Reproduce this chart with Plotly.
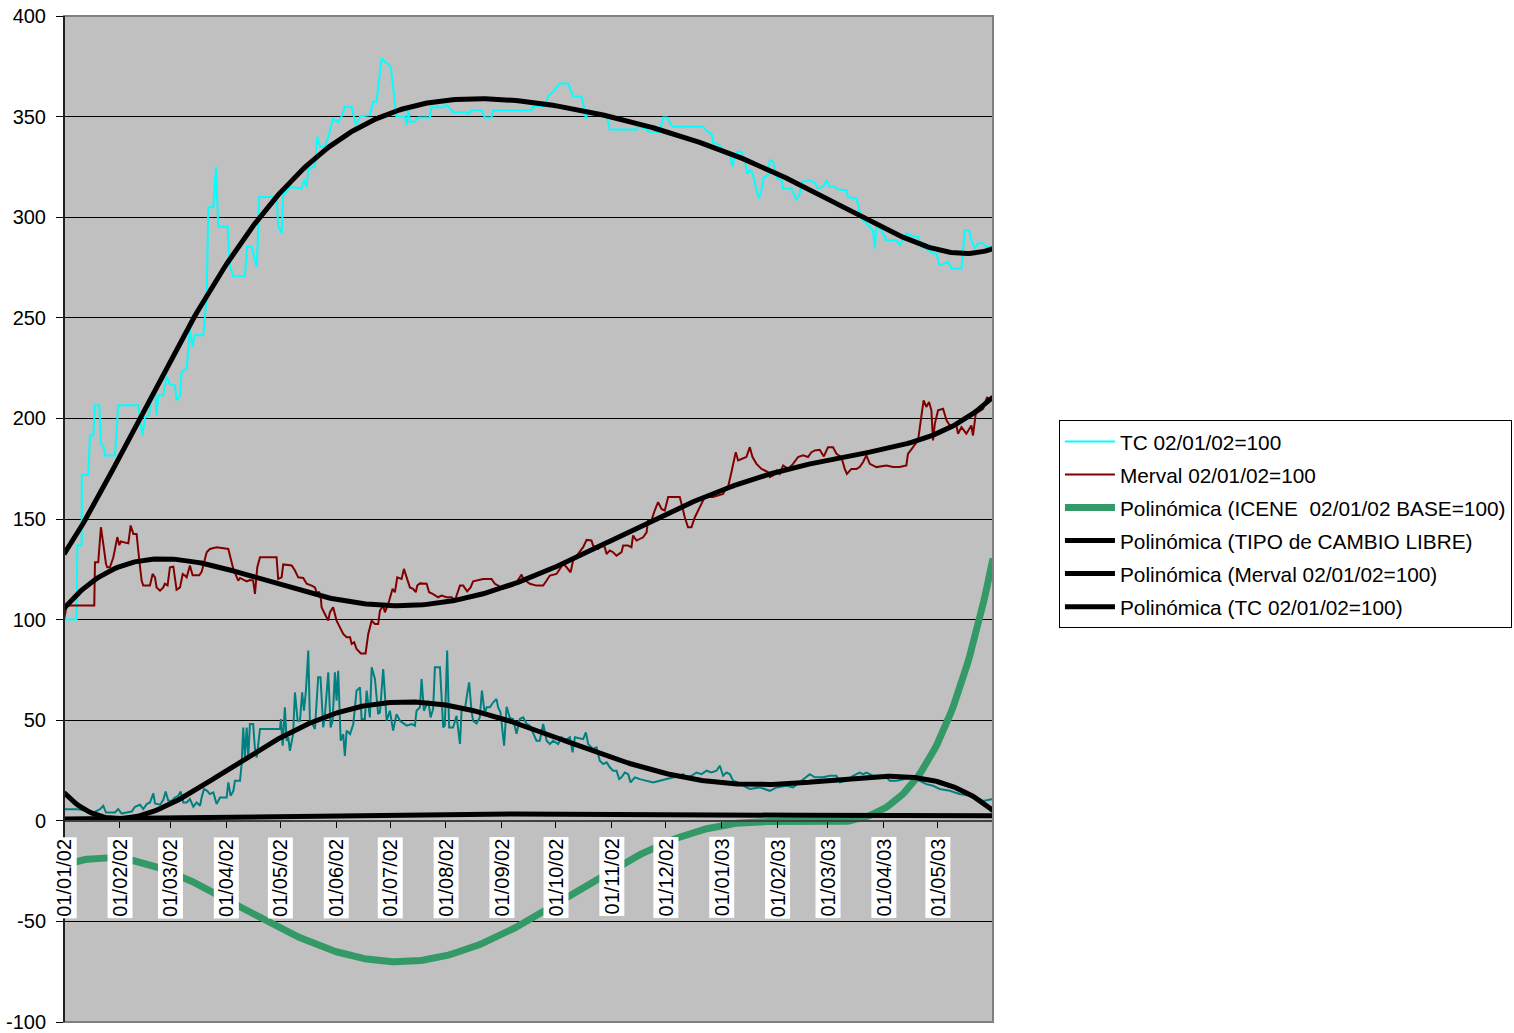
import numpy as np
import pandas as pd
import plotly.graph_objects as go

ORIGEN = pd.Timestamp("2002-01-01")
FUENTE = "Arial, Liberation Sans, sans-serif"

# ---- TC 02/01/02=100 (días desde 01/01/02, valor) ----
tc_dias = [0, 7, 7.4, 9.8, 9.9, 13.5, 14.4, 16.3, 17.2, 19.6, 20.5, 21.8, 22.8, 28.3, 30.1, 41.2, 43.5, 45, 47.2,
           48.7, 50.5, 51.4, 52.3, 55.1, 57, 58.8, 61.6, 62.5, 64.4, 65.3, 68.1, 69.9, 71.4, 72.3, 77.3, 78.2, 79.2,
           80.1, 82.9, 84.4, 85.6, 90.8, 92.1, 94, 100.4, 101.7, 104.2, 106, 107, 108.4, 118, 118.9, 120.8, 121.7,
           125.4, 131.9, 133.2, 134.7, 135.6, 139.3, 140.6, 142.1, 144.8, 146.7, 149.4, 152.2, 154.1, 155.9, 159.7,
           162, 164.3, 169.8, 171.6, 173.5, 176.3, 177.2, 179.1, 181.3, 182.7, 184.1, 184.5, 189.2, 190.2, 191.1,
           192, 194.8, 196.6, 203.1, 204, 210.5, 212.4, 215.2, 216, 223.5, 224.4, 226.2, 231.8, 233.6, 237.3, 238.3,
           259.5, 260.4, 266.9, 268.8, 271.5, 275.2, 279.9, 282.6, 287.3, 288.6, 289.7, 291, 301.2, 303, 317.8,
           318.7, 322.4, 325.2, 330.7, 332.6, 334.8, 337.2, 338.1, 354.8, 356.7, 359.4, 360.3, 363.1, 365.9, 369.6,
           371.1, 371.8, 373.6, 376.1, 377.9, 379.2, 380.7, 382.2, 384.4, 385.7, 387.2, 388.5, 390.9, 391.8, 393.6,
           395.8, 398.3, 399.2, 403.8, 406.6, 408.4, 409.9, 414, 416.8, 418.6, 421.4, 423.3, 425.1, 427.9, 429.7,
           434.4, 435.2, 439.9, 441.3, 442.7, 447.3, 449.1, 450.1, 451, 453.8, 456.5, 462.1, 463.9, 467.6, 472.3,
           474.1, 476, 478.7, 482.4, 484.3, 486.1, 490.7, 492.6, 498.2, 500, 502.4, 503.7, 505.5, 507.4, 510.2,
           512.1, 515.7]
tc_vals = [100, 100, 137, 137, 172, 172, 191.5, 191.5, 206.5, 206.5, 187.4, 186.6, 181.6, 181.6, 206.5, 206.5,
           191.5, 200.6, 201.5, 210.6, 214, 201.5, 211.4, 211.4, 220.9, 216.9, 216.4, 209, 211.4, 223, 224.6, 243.8,
           235.5, 241.3, 241.3, 252, 260.3, 305, 305, 325, 295.2, 295.2, 276, 270.6, 270.6, 285.6, 285.3, 278.6,
           275.3, 310, 310, 296, 292, 311, 315, 314.3, 318.4, 315, 324.2, 325, 340, 335, 335, 340, 349, 347.2,
           350.2, 354.9, 354.9, 345.8, 350, 350.7, 357.4, 357.4, 379, 378, 376.4, 375, 364.8, 351.6, 350, 350,
           345.8, 355, 347.4, 347.4, 349.6, 349.6, 354.6, 354.6, 355.7, 353.2, 352.2, 352.2, 351.2, 353.2, 353.2,
           349.6, 349.6, 353.2, 353.2, 355.2, 355.2, 360.2, 362.3, 366.5, 366.5, 360.2, 359.8, 354.9, 348.9, 353.2,
           350.7, 343.6, 343.6, 345.3, 344.1, 342.4, 342.4, 349.6, 349.6, 345.8, 345, 345, 342.9, 341.5, 337,
           336.3, 333.3, 331.7, 325, 328.4, 332.5, 332.5, 328.4, 321.7, 323.4, 321.7, 313.4, 309.3, 313.4, 320,
           320.9, 328.4, 327.5, 319.2, 318.4, 314.3, 314.3, 308.5, 311.8, 317.6, 318.4, 317, 314.3, 315.1, 318.4,
           315.1, 315.1, 313.8, 313.4, 310, 309.3, 303.5, 299.3, 295.2, 293.5, 284.4, 296.5, 293.5, 288.6, 288.6,
           286.1, 291.9, 290.2, 290.2, 285.2, 284.4, 281.9, 281.9, 276, 277.8, 274.5, 274.5, 293.5, 293.5, 288.6,
           284.4, 286.9, 287.2, 284.9, 285.6]

# ---- Merval 02/01/02=100 ----
merval_dias = [0, 1.5, 16.8, 17.2, 19, 20.5, 21.8, 23.3, 24, 25.5, 27.4, 28.3, 29.6, 30.7, 31.5, 35.7, 37, 38.5,
               40.3, 41.8, 43.1, 44, 47.7, 49.2, 50.5, 51.4, 53.3, 55.1, 56, 57.5, 58.8, 60.7, 61.6, 62.5, 64.4,
               65.9, 67.1, 68.1, 69.9, 71.4, 75.1, 76.4, 79.2, 81, 84.7, 91.2, 94, 96.7, 97.7, 100.4, 101.4, 103.2,
               105, 106, 107.3, 108.8, 118, 118.9, 120.8, 121.7, 126.4, 128.2, 130, 132.8, 134.7, 137.5, 139.3,
               140.2, 141.7, 142.6, 143, 144.8, 146.7, 147.6, 149.4, 151.3, 153.2, 155, 156.9, 158.8, 159.7, 161.1,
               162.4, 164.8, 167.4, 168.9, 170.8, 172.6, 174.4, 175.4, 177.2, 178.1, 180, 180.9, 182.4, 183.7, 185,
               187.4, 188.7, 190.2, 192, 193.8, 195.3, 196.1, 197.6, 201.3, 202.7, 204.9, 207.7, 209.6, 212.4, 215.2,
               217, 219.8, 221.6, 223.8, 225.7, 227.1, 232.7, 237.3, 239.2, 241, 242.9, 245.7, 249.3, 251.2, 254,
               254.9, 258.6, 262.3, 266, 267.9, 269.7, 273.4, 275.2, 277.1, 279, 281.2, 282.6, 283.6, 285.4, 287.3,
               288.2, 290.1, 292.8, 293.7, 296.5, 298.4, 300.2, 301.2, 303, 304.8, 306.7, 309.5, 310.4, 313.1, 315,
               315.9, 317.8, 321.5, 323.4, 324.2, 326.1, 327.9, 329.8, 331.7, 333.5, 335.4, 341.8, 342.8, 344.6,
               346.4, 348.3, 350.2, 352.9, 355.7, 360.3, 365.9, 366.8, 368.6, 370.5, 372.9, 374.2, 378.8, 380.7,
               382.2, 384.4, 387.2, 389, 390.9, 391.8, 393.6, 395.5, 397.3, 399.2, 402, 404.7, 407.5, 410.3, 413,
               414.9, 416.8, 419.5, 421.8, 424.1, 426.9, 428.8, 431.5, 433.4, 434.6, 437.1, 439.9, 441.7, 443.6,
               445.4, 447.3, 451, 456.5, 460.2, 463.9, 467.6, 468.5, 471.3, 474.1, 476, 477.2, 478.7, 480.2, 481.5,
               482.4, 483.4, 485.2, 488, 489.9, 491.7, 495.4, 496.3, 498.2, 500.9, 503.7, 504.6, 506.1, 507.4, 510.2,
               512.4, 513.9, 515.7]
merval_vals = [100, 107, 107, 128.5, 128.5, 145.9, 137.6, 127.7, 126, 126, 131, 136, 141, 137, 138.8, 137.9,
               146.8, 142.6, 142.6, 129.4, 119.4, 116.9, 116.9, 122.7, 121, 116, 114.4, 116, 117.8, 117, 126, 126.3,
               119.4, 114.8, 116, 122.7, 121.9, 121, 126.9, 122, 122, 123.7, 133.5, 135.1, 135.9, 135.1, 125.2,
               119.4, 120.7, 119.4, 119, 119.7, 119.4, 112.8, 126, 131, 131, 120.2, 121, 127.4, 126.9, 124.4, 121,
               120.7, 117.8, 116.9, 116, 113.6, 113.6, 110.3, 106.1, 102.8, 99.5, 103.6, 106.1, 99.5, 96.2, 92.9,
               91.2, 91.2, 87.9, 88.7, 85.4, 83.2, 83.2, 92.9, 99.5, 97.8, 97.8, 104.5, 107, 103.6, 107.8, 111.1,
               115.3, 113.6, 121, 120.2, 125.2, 121, 116, 115.3, 113.6, 116.9, 118, 117.8, 113.6, 112.7, 111.1,
               111.9, 111.1, 111.1, 109.5, 116.9, 116.9, 114, 116, 119, 120.2, 120.2, 117.8, 116.9, 115.3, 115.8,
               116.9, 118.6, 122.4, 120.2, 117.8, 116.9, 116.9, 119.4, 121.9, 122.7, 125.2, 127.7, 126, 123.5, 129.4,
               130.2, 132.7, 135.1, 136, 139.6, 139.3, 136.8, 135.1, 136.8, 136, 132.6, 134.3, 133.5, 131.8, 133.5,
               136.8, 136.8, 136, 141.8, 139.3, 140.9, 143.4, 149.3, 149.3, 154.2, 158.4, 155, 154.2, 160.9, 160.9,
               157.6, 150.9, 145.9, 145.9, 150.9, 155.9, 160.9, 160.9, 162.5, 164.2, 165.8, 173.2, 183.2, 179.1,
               180.8, 185.7, 180.8, 177.4, 174.9, 174.1, 173.2, 170.8, 171.6, 174.1, 172.4, 176.6, 174.9, 177.4,
               180.8, 181.6, 180.8, 183.2, 184.1, 184.4, 181.1, 185.7, 185.7, 182.4, 180.8, 174.9, 172.4, 174.9,
               174.9, 175.8, 178.3, 181.6, 177.4, 175.8, 176.6, 175.8, 175.8, 176.6, 182.4, 185.7, 189.1, 201.5,
               209, 205.7, 208.1, 204, 189.1, 197.3, 204, 204.8, 199, 196.5, 196.5, 192.4, 195.7, 192.4, 196.5,
               191.5, 202.3, 203.1, 204.8, 210.6, 209, 210.6]

# ---- Serie 3 (verde azulado) ----
serie3_dias = [0, 7, 12.6, 16.3, 20, 21.8, 23.3, 28.3, 30.1, 32, 34.8, 37.6, 38.5, 39.4, 42.2, 44, 45.9, 47.7,
               49.6, 50.5, 53.3, 55.1, 56.4, 57.9, 59.8, 61.6, 63.4, 64.8, 66.2, 68.1, 69.9, 71.8, 73.6, 75.5, 76.4,
               77.7, 79.5, 81, 82.9, 84.7, 86.6, 90.3, 91.2, 92.5, 94, 94.9, 97.7, 98.6, 99.5, 100.4, 101.4, 102.3,
               103.2, 105, 106, 107, 108.8, 119.9, 120.4, 121.4, 122.6, 123.6, 124.5, 125.4, 127.2, 128.2, 129.7,
               131, 132.2, 133.2, 134.3, 135.6, 136.5, 137.5, 139.3, 141.1, 142.4, 143.9, 144.8, 146.7, 148, 149.1,
               150.4, 151.3, 152.2, 153.2, 153.6, 155, 155.9, 156.9, 158.8, 160.6, 162.4, 164.3, 165.2, 167, 168,
               169.8, 170.8, 172.6, 174.4, 175.4, 177.2, 179.1, 180.9, 182.7, 184.6, 186.5, 190.2, 193, 194.8, 195.7,
               197.6, 198.5, 199.8, 202.2, 203.5, 204.9, 205.9, 208.7, 210.5, 211.4, 212.7, 213.8, 216, 217.9, 219.8,
               220.7, 222.6, 223.8, 224.9, 226.2, 227.1, 229, 230.8, 232, 233.6, 234.6, 236.4, 238.3, 240.1, 241,
               242.3, 244.3, 245.7, 247.5, 249.3, 251.2, 253, 254.9, 256.8, 258.6, 260.4, 262.3, 264.1, 266, 267.9,
               269.7, 271.5, 274.3, 276.2, 278, 280.8, 282.3, 283.6, 286.3, 288.2, 289.7, 291, 293.7, 295.6, 297.4,
               299.3, 301.2, 303, 304.8, 306.7, 308.2, 309.5, 311.3, 313.2, 314.5, 316.9, 319.6, 323.4, 327, 330.7,
               334.4, 338.1, 341.8, 343.7, 345.5, 348.3, 351.1, 353.9, 356.7, 359.4, 362.2, 364, 365, 365.9, 367.7,
               369.6, 371.4, 374.2, 378.8, 380.7, 386.2, 391.8, 395.5, 401, 404.7, 408.4, 412.1, 414, 416.8, 421.4,
               425.1, 428.8, 430.7, 434.4, 438, 441.7, 443.6, 445.4, 449.1, 452.8, 456.5, 458.4, 462.1, 465.8, 471.3,
               475, 478.7, 482.4, 486.1, 491.7, 497.2, 502.8, 506.5, 510.2, 513.9, 515.7]
serie3_vals = [5.8, 5.8, 5, 4.1, 5.8, 7.5, 4.1, 4.1, 5.8, 3.6, 4.1, 4.6, 5.8, 7, 8, 5.8, 8.3, 9.1, 13.6, 8.6, 8,
               10.3, 14.6, 10, 10, 11.6, 12.4, 14.6, 9.1, 9.1, 10.8, 7, 9.1, 7.5, 11.6, 15.8, 14.9, 13.3, 14.1, 8.3,
               11.6, 11.6, 19.1, 12.4, 14.9, 19.9, 19.9, 28.2, 46.4, 31.5, 46.4, 31.5, 48.1, 48.1, 35.7, 31.5, 45.6,
               45.6, 50.6, 37.3, 56.4, 39.8, 41.5, 34.8, 43.1, 63.8, 49.7, 49.7, 63.8, 54.7, 64.7, 84.6, 49.7, 48.9,
               45.6, 71.3, 71.3, 46.4, 52.2, 73.8, 46.4, 49.7, 73.8, 59.7, 74.6, 49.7, 39.8, 43.1, 32.3, 44.8, 43.1,
               48.1, 64.7, 66.3, 50.6, 50.6, 64.7, 51.4, 76.3, 70.5, 53, 53.9, 75.4, 49.7, 54.7, 44.8, 53, 49.7, 47.3,
               48.1, 47.3, 54.7, 56.4, 70.5, 54.7, 59.7, 51.4, 55.6, 76.3, 76.3, 46.4, 47.3, 84.6, 46.4, 46.4, 52.2,
               38.2, 54.7, 55.6, 63, 68.8, 54.7, 49.7, 48.4, 51.4, 64.7, 53, 56.4, 56.4, 58.9, 60.5, 56.4, 53.9, 37.3,
               56.7, 51.1, 50.6, 43.2, 50.6, 51.4, 48.1, 47.3, 44, 39.8, 39.8, 48.1, 39.8, 38.1, 39.8, 38.1, 41.5,
               39.8, 41.5, 34, 41.5, 41.1, 40.6, 43.9, 38.1, 35.7, 36.5, 29.9, 28.2, 29.1, 26.6, 24.9, 24.9, 20.7,
               21.6, 24, 23.2, 19.1, 21.6, 20.7, 19.9, 19.1, 19.9, 20.7, 21.6, 22.4, 23.2, 21.6, 22.4, 24, 23.2, 24.9,
               24, 24.9, 27.4, 24.9, 22.4, 24, 23.2, 19.9, 19.1, 16.6, 15.8, 16.6, 14.9, 16.6, 17.4, 16.6, 19.1, 21.6,
               23.2, 21.6, 21.6, 22.4, 22.4, 19.1, 19.9, 22.4, 24, 23.2, 24, 22.4, 22.4, 21.6, 19.9, 19.9, 20.7,
               21.6, 19.9, 18.2, 17.4, 15.8, 14.9, 13.3, 12.4, 11.6, 9.9, 10.3, 10.8]

# ---- Líneas de tendencia polinómicas (valores de la curva por fecha) ----
tend_dias = [0, 31, 59, 90, 120, 151, 181, 212, 243, 273, 304, 334, 365, 396, 424, 455, 485, 515.7]
tend_tc = [132, 182.6, 229, 273.6, 313, 339.8, 350.7, 357.4, 358.5, 356, 350, 341.8, 333, 322, 310, 293.5, 284, 284.5]
tend_merval = [105.5, 126.5, 130.3, 125.2, 117, 109.5, 106.5, 110.4, 116, 126, 137.7, 152.6, 165, 174, 179, 184,
               193, 210.6]
tend_serie3 = [14.1, 0.5, 9.1, 24.9, 41.5, 52.2, 58.9, 58, 52, 40.6, 31.5, 23.2, 18.6, 18.2, 20.7, 22.4, 18.6, 5.3]
tend_tipo_cambio = [0.9, 1.3, 1.7, 2.1, 2.5, 2.8, 3.1, 3.3, 3.4, 3.4, 3.3, 3.1, 2.9, 2.8, 2.7, 2.6, 2.5, 2.5]

icene_dias = [0, 23, 31, 59, 90, 120, 151, 181, 212, 243, 273, 304, 334, 365, 396, 424, 455, 473, 490, 508, 515.7]
icene_vals = [-22, -18.2, -18.6, -25.7, -39.8, -53, -63.8, -69.7, -67.2, -58, -42.3, -24, -10, -1.3, 0, -2.1,
              3.3, 21.5, 50, 103, 127]

# ---- Ejes ----
meses_dias = [0, 31, 59, 90, 120, 151, 181, 212, 243, 273, 304, 334, 365, 396, 424, 455, 485]
meses_etiquetas = ["01/01/02", "01/02/02", "01/03/02", "01/04/02", "01/05/02", "01/06/02", "01/07/02",
                   "01/08/02", "01/09/02", "01/10/02", "01/11/02", "01/12/02", "01/01/03", "01/02/03",
                   "01/03/03", "01/04/03", "01/05/03"]
y_ticks = [-100, -50, 0, 50, 100, 150, 200, 250, 300, 350, 400]
y_etiquetas = ["-100", "-50", "0", "50", "100", "150", "200", "250", "300", "350", "400"]

FIN_DIAS = 515.7


def a_fecha(dias):
    return ORIGEN + pd.to_timedelta(np.asarray(dias, dtype=float), unit="D")


def polinomica(dias, vals, grado=6, n=400):
    """Ajuste polinómico (como la línea de tendencia de Excel) evaluado en una malla fina."""
    t = np.asarray(dias, dtype=float) / FIN_DIAS
    coef = np.polyfit(t, np.asarray(vals, dtype=float), grado)
    tt = np.linspace(0, 1, n)
    return a_fecha(tt * FIN_DIAS), np.polyval(coef, tt)


fig = go.Figure()

# series diarias
fig.add_trace(go.Scatter(x=a_fecha(tc_dias), y=tc_vals, mode="lines", name="TC 02/01/02=100",
                         legendgroup="g1", line=dict(color="#00FFFF", width=2)))
fig.add_trace(go.Scatter(x=a_fecha(merval_dias), y=merval_vals, mode="lines", name="Merval 02/01/02=100",
                         legendgroup="g2", line=dict(color="#800000", width=2)))
fig.add_trace(go.Scatter(x=a_fecha(serie3_dias), y=serie3_vals, mode="lines", name="Serie 3",
                         legendgroup="g3", line=dict(color="#008080", width=2), showlegend=False))

# tendencias
xs, ys = polinomica(icene_dias, icene_vals)
fig.add_trace(go.Scatter(x=xs, y=ys, mode="lines", name="Polinómica (ICENE  02/01/02 BASE=100)",
                         legendgroup="g4", line=dict(color="#339966", width=7)))
xs, ys = polinomica(tend_dias, tend_tipo_cambio, grado=4)
fig.add_trace(go.Scatter(x=xs, y=ys, mode="lines", name="Polinómica (TIPO de CAMBIO LIBRE)",
                         legendgroup="g5", line=dict(color="#000000", width=5)))
xs, ys = polinomica(tend_dias, tend_serie3)
fig.add_trace(go.Scatter(x=xs, y=ys, mode="lines", name="Polinómica (Serie 3)",
                         legendgroup="g6", line=dict(color="#000000", width=5), showlegend=False))
xs, ys = polinomica(tend_dias, tend_merval)
fig.add_trace(go.Scatter(x=xs, y=ys, mode="lines", name="Polinómica (Merval 02/01/02=100)",
                         legendgroup="g7", line=dict(color="#000000", width=5)))
xs, ys = polinomica(tend_dias, tend_tc)
fig.add_trace(go.Scatter(x=xs, y=ys, mode="lines", name="Polinómica (TC 02/01/02=100)",
                         legendgroup="g8", line=dict(color="#000000", width=5)))

# etiquetas del eje de fechas con fondo blanco, bajo la línea del cero
for d, txt in zip(meses_dias, meses_etiquetas):
    fig.add_annotation(x=a_fecha([d])[0], y=0, xref="x", yref="y", text=txt, textangle=-90,
                       showarrow=False, xanchor="center", yanchor="top", yshift=-16,
                       bgcolor="white", borderpad=1, font=dict(family=FUENTE, size=20, color="black"))

# marco del área de trazado
fig.add_shape(type="rect", xref="paper", yref="paper", x0=0, x1=1, y0=0, y1=1,
              line=dict(color="#808080", width=2), layer="above")
fig.add_shape(type="line", xref="paper", yref="paper", x0=0, x1=0, y0=0, y1=1,
              line=dict(color="#000000", width=1.5), layer="above")

fig.update_layout(
    width=1514, height=1033,
    margin=dict(l=64, r=521, t=16, b=11, autoexpand=False),
    paper_bgcolor="white",
    plot_bgcolor="#C0C0C0",
    font=dict(family=FUENTE, size=20, color="black"),
    showlegend=True,
    legend=dict(x=1.071, y=0.598, xanchor="left", yanchor="top", bgcolor="white",
                bordercolor="#000000", borderwidth=1, font=dict(family=FUENTE, size=20.8, color="black"),
                itemwidth=50, traceorder="grouped", tracegroupgap=3),
    xaxis=dict(
        type="date",
        range=[a_fecha([0])[0], a_fecha([FIN_DIAS])[0]],
        tickvals=a_fecha(meses_dias),
        showticklabels=False,
        ticks="outside", ticklen=6, tickcolor="#000000", tickwidth=1,
        showgrid=False, zeroline=False,
        showline=True, linecolor="#404040", linewidth=2,
        anchor="free", position=0.2, automargin=False,
    ),
    yaxis=dict(
        range=[-100, 400],
        tickvals=y_ticks, ticktext=y_etiquetas,
        ticks="outside", ticklen=7, tickcolor="#000000", tickwidth=1,
        showgrid=True, gridcolor="#000000", gridwidth=1,
        zeroline=False, showline=False,
        tickfont=dict(family=FUENTE, size=20, color="black"),
        ticklabelstandoff=6, automargin=False,
    ),
)

fig.write_html("out.html")
